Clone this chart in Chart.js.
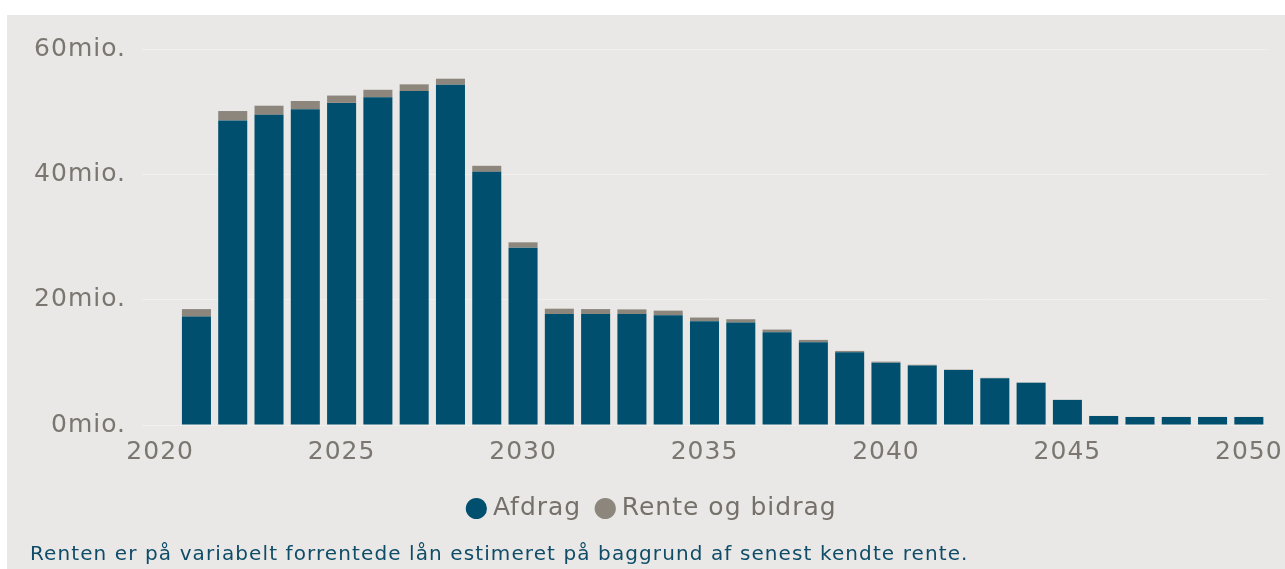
<!DOCTYPE html>
<html>
<head>
<meta charset="utf-8">
<script src="https://cdn.jsdelivr.net/npm/chart.js@4.4.1/dist/chart.umd.min.js"></script>
<style>
  html, body { margin: 0; padding: 0; background: #ffffff; }
  body { width: 1285px; height: 569px; position: relative; overflow: hidden; font-family: "DejaVu Sans", Verdana, sans-serif; }
  #panel { position: absolute; left: 7px; top: 15px; width: 1278px; height: 554px; background: #e9e8e6; }
  #wrap { position: absolute; left: 0; top: 0; width: 1278px; height: 554px; }
  #note { position: absolute; left: 23px; top: 526px; font-size: 20px; letter-spacing: 1.1px; line-height: 24px; color: #0f4c68; white-space: nowrap; }
</style>
</head>
<body>
<div id="panel">
  <div id="wrap"><canvas id="c"></canvas></div>
  <div id="note">Renten er på variabelt forrentede lån estimeret på baggrund af senest kendte rente.</div>
</div>
<script>
// Categories (years); 2020 has no bar
const years = ['2020','2021','2022','2023','2024','2025','2026','2027','2028','2029','2030',
               '2031','2032','2033','2034','2035','2036','2037','2038','2039','2040',
               '2041','2042','2043','2044','2045','2046','2047','2048','2049','2050'];
// Afdrag (mio.)
const afdrag = [null, 17.3, 48.6, 49.5, 50.4, 51.4, 52.3, 53.3, 54.3, 40.4, 28.3,
                17.7, 17.7, 17.7, 17.5, 16.55, 16.35, 14.8, 13.2, 11.6, 9.95,
                9.5, 8.77, 7.48, 6.73, 4.0, 1.44, 1.28, 1.28, 1.28, 1.28];
// Rente og bidrag (mio.)
const rente = [null, 1.2, 1.5, 1.45, 1.3, 1.17, 1.19, 1.06, 0.96, 0.96, 0.85,
               0.86, 0.8, 0.75, 0.75, 0.6, 0.53, 0.43, 0.38, 0.22, 0.16,
               0.11, 0.06, 0.04, 0.03, 0.02, 0.01, 0.01, 0.01, 0.01, 0.01];
// Y tick values
const yTicks = [0, 20, 40, 60];

const FONT = '"DejaVu Sans", Verdana, sans-serif';
const tickColor = '#7b7670';

const spacingPlugin = {
  id: 'spacing',
  beforeInit(chart) { chart.ctx.letterSpacing = '1px'; },
  beforeUpdate(chart) { chart.ctx.letterSpacing = '1px'; },
  beforeLayout(chart) { chart.ctx.letterSpacing = '1px'; },
  beforeDraw(chart) { chart.ctx.letterSpacing = '1px'; },
  afterLayout(chart) {
    if (chart.legend) { chart.legend.left += 6; chart.legend.right += 6; }
  }
};

new Chart(document.getElementById('c'), {
  type: 'bar',
  plugins: [spacingPlugin],
  data: {
    labels: years,
    datasets: [
      { label: 'Afdrag', data: afdrag, backgroundColor: '#004f6e', borderWidth: 0,
        barPercentage: 1.0, categoryPercentage: 0.8 },
      { label: 'Rente og bidrag', data: rente, backgroundColor: '#8c867d', borderWidth: 0,
        barPercentage: 1.0, categoryPercentage: 0.8 }
    ]
  },
  options: {
    responsive: true,
    maintainAspectRatio: false,
    animation: false,
    layout: { padding: { left: 23, right: 18, top: 34, bottom: 38 } },
    plugins: {
      tooltip: { enabled: false },
      title: { display: false },
      legend: {
        position: 'bottom',
        labels: {
          usePointStyle: true,
          pointStyle: 'circle',
          boxWidth: 8,
          boxHeight: 15,
          padding: 20,
          color: '#76706b',
          font: { family: FONT, size: 25 }
        }
      }
    },
    scales: {
      x: {
        stacked: true,
        grid: { display: false, drawTicks: false },
        border: { display: false },
        afterFit: (s) => { s.height = 51; s.paddingLeft = 0; s.paddingRight = 0; },
        ticks: {
          autoSkip: false,
          maxRotation: 0,
          padding: 12,
          color: tickColor,
          font: { family: FONT, size: 25 },
          callback: function(v, i) { const y = years[i]; return (parseInt(y) % 5 === 0) ? y : ''; }
        }
      },
      y: {
        stacked: true,
        min: 0,
        max: 60,
        afterFit: (s) => { s.width = 112; },
        afterBuildTicks: (s) => { s.ticks = yTicks.map(v => ({ value: v })); },
        grid: { color: 'rgba(255,255,255,0.35)', drawTicks: false, lineWidth: 1 },
        border: { display: false },
        ticks: {
          padding: 16,
          color: tickColor,
          font: { family: FONT, size: 25 },
          callback: (v) => v + 'mio.'
        }
      }
    }
  }
});
</script>
</body>
</html>
